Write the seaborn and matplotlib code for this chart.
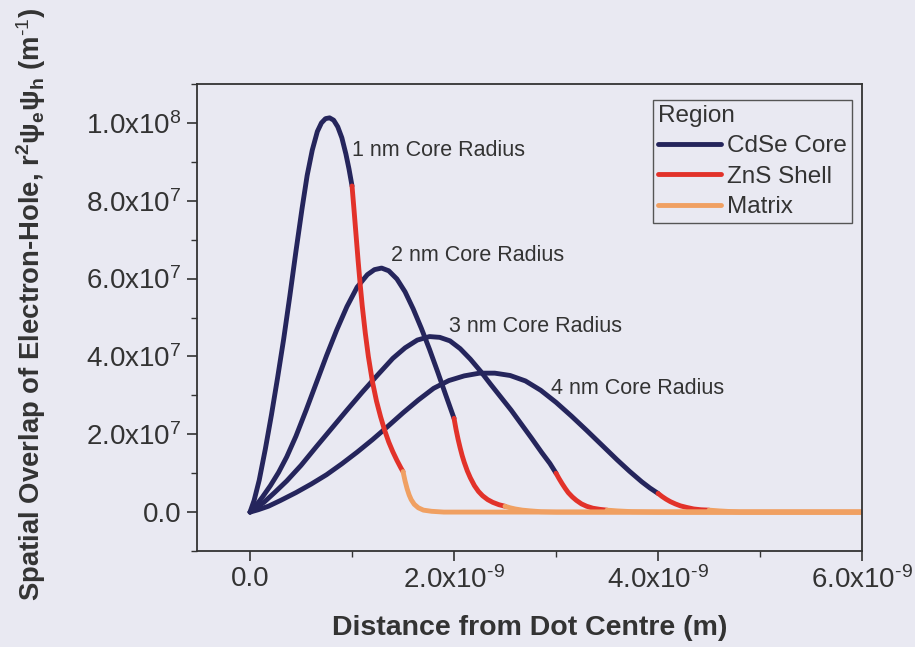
import numpy as np
import pandas as pd
import matplotlib
matplotlib.use("Agg")
import matplotlib.pyplot as plt
from matplotlib.ticker import MultipleLocator
import seaborn as sns

# distances in nm, overlap in units of 1e7 m^-1
core_1nm_x = [0.0, 0.04, 0.09, 0.15, 0.21, 0.27, 0.33, 0.39, 0.45, 0.51, 0.56, 0.61, 0.66, 0.70,
              0.74, 0.78, 0.82, 0.86, 0.90, 0.94, 0.97, 1.0]
core_1nm_y = [0.0, 0.30, 0.82, 1.62, 2.50, 3.45, 4.45, 5.55, 6.70, 7.80, 8.65, 9.30, 9.78, 10.00,
              10.11, 10.13, 10.07, 9.90, 9.62, 9.20, 8.82, 8.38]
shell_1nm_x = [1.0, 1.02, 1.04, 1.06, 1.08, 1.10, 1.13, 1.16, 1.20, 1.24, 1.28, 1.32, 1.36, 1.40,
               1.44, 1.48, 1.5]
shell_1nm_y = [8.38, 7.75, 7.10, 6.45, 5.85, 5.30, 4.60, 4.00, 3.35, 2.85, 2.45, 2.10, 1.80, 1.55,
               1.33, 1.13, 1.04]
matrix_1nm_x = [1.5, 1.52, 1.54, 1.56, 1.58, 1.61, 1.65, 1.70, 1.78, 1.9, 6.0]
matrix_1nm_y = [1.04, 0.80, 0.60, 0.44, 0.32, 0.20, 0.11, 0.05, 0.02, 0.0, 0.0]

core_2nm_x = [0.0, 0.05, 0.12, 0.20, 0.28, 0.36, 0.45, 0.55, 0.65, 0.75, 0.85, 0.95, 1.05, 1.15,
              1.22, 1.29, 1.36, 1.44, 1.52, 1.60, 1.68, 1.76, 1.84, 1.92, 2.0]
core_2nm_y = [0.0, 0.14, 0.38, 0.68, 1.02, 1.42, 1.95, 2.62, 3.32, 4.02, 4.68, 5.28, 5.78, 6.10,
              6.23, 6.27, 6.20, 5.99, 5.66, 5.22, 4.72, 4.18, 3.60, 3.00, 2.41]
shell_2nm_x = [2.0, 2.02, 2.04, 2.06, 2.08, 2.10, 2.13, 2.16, 2.20, 2.24, 2.28, 2.33, 2.38, 2.44, 2.5]
shell_2nm_y = [2.41, 2.12, 1.87, 1.65, 1.45, 1.28, 1.06, 0.88, 0.68, 0.53, 0.42, 0.32, 0.25, 0.19, 0.15]
matrix_2nm_x = [2.5, 2.55, 2.6, 2.67, 2.75, 2.85, 3.0, 6.0]
matrix_2nm_y = [0.15, 0.11, 0.08, 0.05, 0.03, 0.01, 0.0, 0.0]

core_3nm_x = [0.0, 0.06, 0.14, 0.24, 0.36, 0.50, 0.65, 0.80, 0.95, 1.10, 1.25, 1.40, 1.52, 1.64,
              1.76, 1.86, 1.96, 2.06, 2.16, 2.26, 2.36, 2.46, 2.56, 2.66, 2.76, 2.86, 2.94, 3.0]
core_3nm_y = [0.0, 0.10, 0.26, 0.50, 0.80, 1.20, 1.68, 2.15, 2.62, 3.08, 3.52, 3.95, 4.22, 4.42,
              4.51, 4.49, 4.40, 4.20, 3.93, 3.62, 3.28, 2.95, 2.62, 2.26, 1.90, 1.53, 1.25, 1.0]
shell_3nm_x = [3.0, 3.03, 3.06, 3.09, 3.12, 3.16, 3.20, 3.25, 3.30, 3.36, 3.43, 3.5]
shell_3nm_y = [1.0, 0.86, 0.73, 0.61, 0.50, 0.39, 0.30, 0.21, 0.15, 0.10, 0.07, 0.05]
matrix_3nm_x = [3.5, 3.6, 3.75, 4.0, 6.0]
matrix_3nm_y = [0.05, 0.03, 0.01, 0.0, 0.0]

core_4nm_x = [0.0, 0.08, 0.18, 0.30, 0.45, 0.60, 0.75, 0.90, 1.05, 1.20, 1.35, 1.50, 1.65, 1.80,
              1.95, 2.10, 2.25, 2.40, 2.55, 2.70, 2.85, 3.0, 3.15, 3.30, 3.45, 3.60, 3.72, 3.84,
              3.92, 4.0]
core_4nm_y = [0.0, 0.06, 0.15, 0.30, 0.50, 0.72, 0.96, 1.24, 1.54, 1.86, 2.20, 2.55, 2.88, 3.18,
              3.38, 3.50, 3.57, 3.57, 3.51, 3.37, 3.13, 2.82, 2.47, 2.10, 1.72, 1.34, 1.05, 0.78,
              0.62, 0.48]
shell_4nm_x = [4.0, 4.04, 4.08, 4.12, 4.17, 4.22, 4.28, 4.35, 4.42, 4.5]
shell_4nm_y = [0.48, 0.40, 0.33, 0.27, 0.21, 0.16, 0.12, 0.08, 0.06, 0.05]
matrix_4nm_x = [4.5, 4.6, 4.8, 6.0]
matrix_4nm_y = [0.05, 0.03, 0.0, 0.0]

regions = ["CdSe Core", "ZnS Shell", "Matrix"]
region_colors = ["#25255c", "#e2322a", "#f0a062"]
radius_labels = ["1 nm Core Radius", "2 nm Core Radius", "3 nm Core Radius", "4 nm Core Radius"]
label_x = [1.0, 1.38, 1.955, 2.95]
label_y = [9.3, 6.6, 4.77, 3.18]

x_ticks = [0.0, 2e-9, 4e-9, 6e-9]
x_ticklabels = ["0.0", "2.0x10$^{\\text{-9}}$", "4.0x10$^{\\text{-9}}$", "6.0x10$^{\\text{-9}}$"]
y_ticks = [0.0, 2e7, 4e7, 6e7, 8e7, 1e8]
y_ticklabels = ["0.0", "2.0x10$^{7}$", "4.0x10$^{7}$", "6.0x10$^{7}$", "8.0x10$^{7}$", "1.0x10$^{8}$"]

curves = {
    "1 nm": [(core_1nm_x, core_1nm_y), (shell_1nm_x, shell_1nm_y), (matrix_1nm_x, matrix_1nm_y)],
    "2 nm": [(core_2nm_x, core_2nm_y), (shell_2nm_x, shell_2nm_y), (matrix_2nm_x, matrix_2nm_y)],
    "3 nm": [(core_3nm_x, core_3nm_y), (shell_3nm_x, shell_3nm_y), (matrix_3nm_x, matrix_3nm_y)],
    "4 nm": [(core_4nm_x, core_4nm_y), (shell_4nm_x, shell_4nm_y), (matrix_4nm_x, matrix_4nm_y)],
}

rows = []
for radius, segs in curves.items():
    for region, (xs, ys) in zip(regions, segs):
        for xv, yv in zip(xs, ys):
            rows.append((radius, region, xv * 1e-9, yv * 1e7))
df = pd.DataFrame(rows, columns=["radius", "region", "distance", "overlap"])

bg = "#e9e9f2"
ink = "#333333"

sns.set_style("ticks")
plt.rcParams["font.family"] = ["Liberation Sans", "DejaVu Sans"]
plt.rcParams["mathtext.fontset"] = "custom"
plt.rcParams["mathtext.rm"] = "Liberation Sans"
plt.rcParams["mathtext.it"] = "Liberation Sans:italic"
plt.rcParams["mathtext.bf"] = "Liberation Sans:bold"
plt.rcParams["mathtext.sf"] = "Liberation Sans"

fig = plt.figure(figsize=(9.15, 6.47), dpi=100, facecolor=bg)
ax = fig.add_axes([197 / 915, 1 - 551 / 647, 665 / 915, 467 / 647])
ax.set_facecolor(bg)

sns.lineplot(data=df, x="distance", y="overlap", hue="region", hue_order=regions,
             palette=region_colors, units="radius", estimator=None, sort=False,
             lw=3.5, solid_joinstyle="round", solid_capstyle="round", ax=ax)

for txt, tx, ty in zip(radius_labels, label_x, label_y):
    ax.text(tx * 1e-9, ty * 1e7, txt, fontsize=15.5, color=ink, ha="left", va="center")

ax.set_xlim(-0.52e-9, 6.0e-9)
ax.set_ylim(-1e7, 1.1e8)
ax.set_xticks(x_ticks)
ax.set_xticklabels(x_ticklabels)
ax.set_yticks(y_ticks)
ax.set_yticklabels(y_ticklabels)
ax.xaxis.set_minor_locator(MultipleLocator(1e-9))
ax.yaxis.set_minor_locator(MultipleLocator(1e7))
ax.tick_params(which="major", direction="out", length=7, width=1.2, colors=ink,
               labelsize=20, pad=4)
ax.tick_params(which="minor", direction="out", length=4, width=1.0, colors=ink)
for sp in ax.spines.values():
    sp.set_visible(True)
    sp.set_color(ink)
    sp.set_linewidth(1.3)

ax.set_xlabel("Distance from Dot Centre (m)", fontsize=20.5, fontweight="bold",
              color=ink, va="center")
ax.xaxis.set_label_coords(0.5, -0.165)
ax.set_ylabel("Spatial Overlap of Electron-Hole, r$^\\mathbf{2}$ψ$_\\mathbf{e}$ψ$_\\mathbf{h}$ (m$^\\mathbf{\\text{-1}}$)",
              fontsize=19.8, fontweight="bold", color=ink, va="center")
ax.yaxis.set_label_coords(-0.25, 0.527)

handles, labels = ax.get_legend_handles_labels()
leg = ax.legend(handles, labels, title="Region", loc="upper right",
                bbox_to_anchor=(0.985, 0.966), borderaxespad=0, fontsize=17.5,
                title_fontsize=17.5, frameon=True, fancybox=False, facecolor=bg,
                edgecolor="#555555", framealpha=1, handlelength=2.6,
                handletextpad=0.25, labelspacing=0.35, borderpad=0.2,
                alignment="left")
leg.get_frame().set_linewidth(1.0)
for t in leg.get_texts():
    t.set_color(ink)
leg.get_title().set_color(ink)

fig.savefig("out.png", dpi=100, facecolor=bg)
